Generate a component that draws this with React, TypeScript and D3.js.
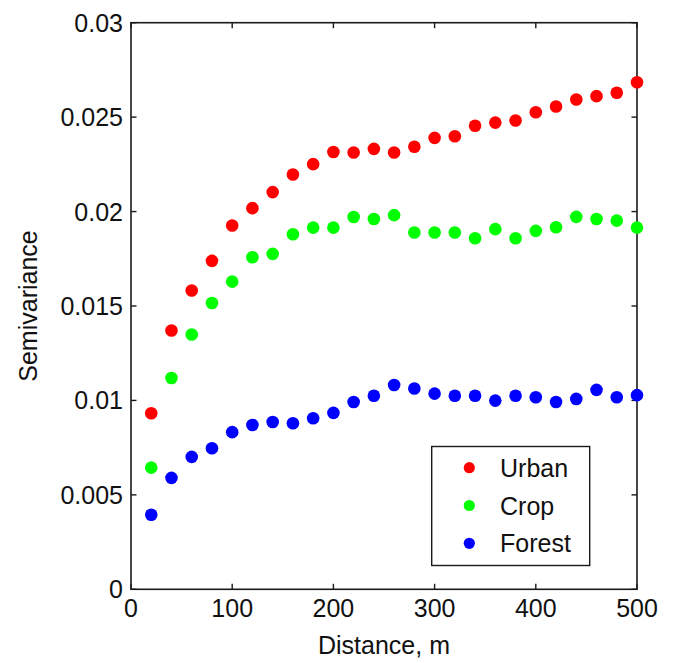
import React from "react";
import * as d3 from "d3";

// Lag distances (m)
const distances = [20, 40, 60, 80, 100, 120, 140, 160, 180, 200, 220, 240, 260, 280, 300, 320, 340, 360, 380, 400, 420, 440, 460, 480, 500];

// Empirical semivariance per land-cover class
const urban = [0.00932, 0.0137, 0.01582, 0.01739, 0.01926, 0.02018, 0.02103, 0.02196, 0.02251, 0.02315, 0.02313, 0.02332, 0.02313, 0.02343, 0.0239, 0.02399, 0.02454, 0.02471, 0.02482, 0.02526, 0.02556, 0.02593, 0.02611, 0.02629, 0.02685];
const crop = [0.00644, 0.01119, 0.01349, 0.01516, 0.01629, 0.01758, 0.01776, 0.0188, 0.01915, 0.01915, 0.01971, 0.01961, 0.01981, 0.01889, 0.01889, 0.01889, 0.01859, 0.01907, 0.01859, 0.01898, 0.01917, 0.01972, 0.01961, 0.01952, 0.01915];
const forest = [0.00395, 0.0059, 0.00701, 0.00747, 0.00832, 0.0087, 0.00886, 0.00879, 0.00906, 0.00934, 0.00992, 0.01025, 0.01082, 0.01063, 0.01036, 0.01025, 0.01025, 0.00999, 0.01025, 0.01017, 0.00992, 0.01008, 0.01056, 0.01017, 0.01028];

const seriesNames = ["Urban", "Crop", "Forest"];
const seriesColors = ["#ff0000", "#00ff00", "#0000ff"];
const seriesValues = [urban, crop, forest];

const xTicks = [0, 100, 200, 300, 400, 500];
const yTicks = [0, 0.005, 0.01, 0.015, 0.02, 0.025, 0.03];
const yTickLabels = ["0", "0.005", "0.01", "0.015", "0.02", "0.025", "0.03"];

const W = 673;
const H = 663;
const left = 131;
const right = 637;
const top = 22.7;
const bottom = 589.3;
const font = "'Liberation Sans', Arial, Helvetica, sans-serif";
const axisColor = "#1a1a1a";
const tickLen = 5.5;

export default function App() {
  const x = d3.scaleLinear().domain([0, 500]).range([left, right]);
  const y = d3.scaleLinear().domain([0, 0.03]).range([bottom, top]);

  return (
    <svg
      width={W}
      height={H}
      style={{ position: "absolute", left: 0, top: 0, background: "#fff" }}
      fontFamily={font}
    >
      {/* plot frame */}
      <rect x={left} y={top} width={right - left} height={bottom - top} fill="none" stroke={axisColor} strokeWidth={1.6} />

      {/* x ticks (bottom and top, pointing inward) */}
      {xTicks.map((t) => (
        <g key={"xt" + t}>
          <line x1={x(t)} x2={x(t)} y1={bottom} y2={bottom - tickLen} stroke={axisColor} strokeWidth={1.4} />
          <line x1={x(t)} x2={x(t)} y1={top} y2={top + tickLen} stroke={axisColor} strokeWidth={1.4} />
          <text x={x(t)} y={bottom + 28} textAnchor="middle" fontSize={25} fill="#111">
            {t}
          </text>
        </g>
      ))}

      {/* y ticks (left and right, pointing inward) */}
      {yTicks.map((t, i) => (
        <g key={"yt" + t}>
          <line x1={left} x2={left + tickLen} y1={y(t)} y2={y(t)} stroke={axisColor} strokeWidth={1.4} />
          <line x1={right} x2={right - tickLen} y1={y(t)} y2={y(t)} stroke={axisColor} strokeWidth={1.4} />
          <text x={left - 8} y={y(t) + 9} textAnchor="end" fontSize={25} fill="#111">
            {yTickLabels[i]}
          </text>
        </g>
      ))}

      {/* axis titles */}
      <text x={(left + right) / 2} y={654} textAnchor="middle" fontSize={25} fill="#111">
        Distance, m
      </text>
      <text
        transform={`translate(37, ${(top + bottom) / 2}) rotate(-90)`}
        textAnchor="middle"
        fontSize={25}
        fill="#111"
      >
        Semivariance
      </text>

      {/* data points */}
      {seriesValues.map((vals, si) => (
        <g key={seriesNames[si]} fill={seriesColors[si]}>
          {vals.map((v, i) => (
            <circle key={i} cx={x(distances[i])} cy={y(v)} r={6.3} />
          ))}
        </g>
      ))}

      {/* legend */}
      <g>
        <rect x={431.7} y={446.5} width={158} height={119} fill="#fff" stroke={axisColor} strokeWidth={1.4} />
        {seriesNames.map((name, i) => (
          <g key={"lg" + name}>
            <circle cx={469.3} cy={467.7 + i * 37.8} r={5.6} fill={seriesColors[i]} />
            <text x={500} y={467.7 + i * 37.8 + 9} fontSize={25} fill="#111">
              {name}
            </text>
          </g>
        ))}
      </g>
    </svg>
  );
}
